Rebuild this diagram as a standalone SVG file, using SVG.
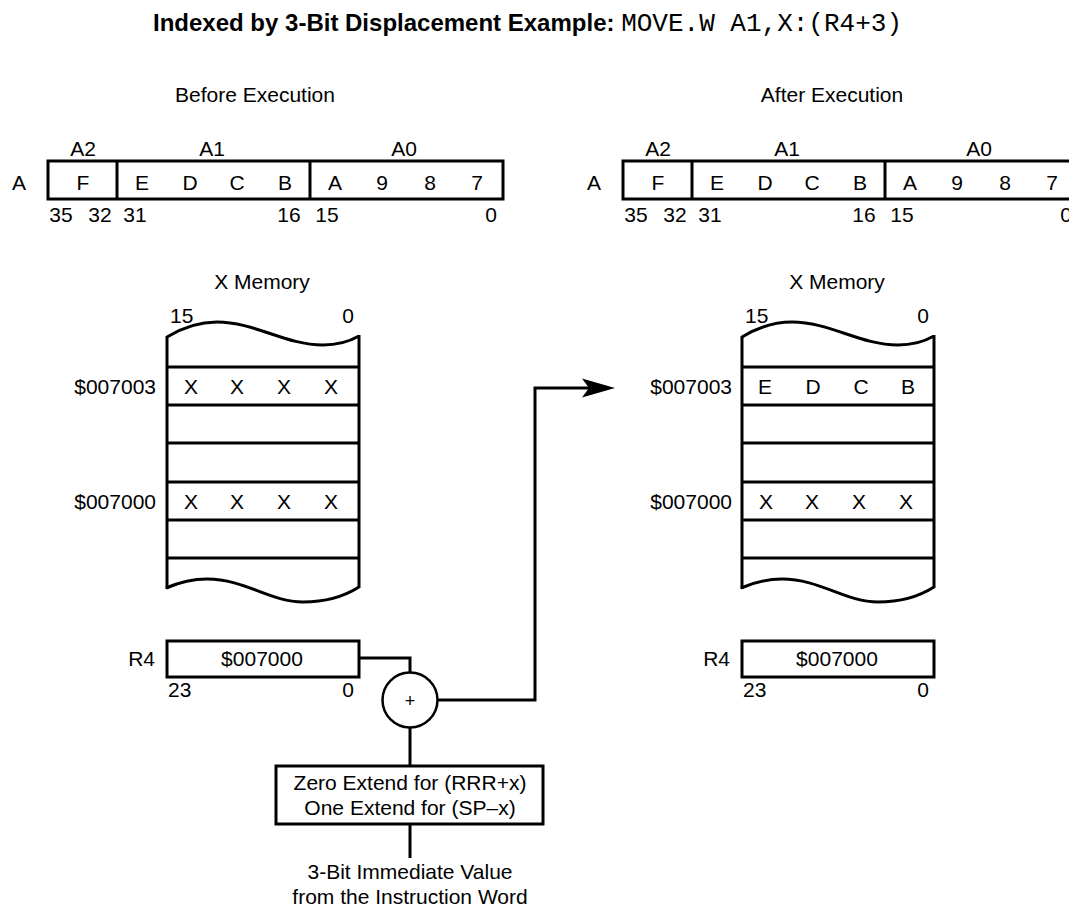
<svg xmlns="http://www.w3.org/2000/svg" width="1069" height="907" viewBox="0 0 1069 907">
<style>
text{font-family:"Liberation Sans",Arial,Helvetica,sans-serif;font-size:21px;fill:#000}
.c{text-anchor:middle}
.e{text-anchor:end}
.box{fill:#fff;stroke:#000;stroke-width:3}
.ln{fill:none;stroke:#000;stroke-width:3}
.title{font-weight:bold;font-size:24px}
.mono{font-family:"Liberation Mono","Courier New",monospace;font-weight:normal;font-size:26px}
</style>
<defs>
<marker id="arr" markerWidth="12" markerHeight="8" refX="11" refY="4" orient="auto" markerUnits="userSpaceOnUse" viewBox="0 0 12 8"><path d="M0,0 L12,4 L0,8 L2,4 Z" fill="#000"/></marker>
</defs>
<rect width="1069" height="907" fill="#fff"/>
<text x="153" y="31" class="title">Indexed by 3-Bit Displacement Example: <tspan class="mono">MOVE.W A1,X:(R4+3)</tspan></text>

<g id="reg-before">
<text x="255" y="102" class="c">Before Execution</text>
<text x="83" y="156" class="c">A2</text>
<text x="212" y="156" class="c">A1</text>
<text x="404" y="156" class="c">A0</text>
<text x="19" y="190" class="c">A</text>
<rect x="48" y="161" width="455" height="38" class="box"/>
<line x1="117" y1="161" x2="117" y2="199" class="ln"/>
<line x1="310" y1="161" x2="310" y2="199" class="ln"/>
<text x="83" y="190" class="c">F</text>
<text x="142" y="190" class="c">E</text>
<text x="190" y="190" class="c">D</text>
<text x="237" y="190" class="c">C</text>
<text x="285" y="190" class="c">B</text>
<text x="335" y="190" class="c">A</text>
<text x="382" y="190" class="c">9</text>
<text x="430" y="190" class="c">8</text>
<text x="477" y="190" class="c">7</text>
<text x="61" y="222" class="c">35</text>
<text x="100" y="222" class="c">32</text>
<text x="135" y="222" class="c">31</text>
<text x="289" y="222" class="c">16</text>
<text x="327" y="222" class="c">15</text>
<text x="491" y="222" class="c">0</text>
</g>

<g id="reg-after" transform="translate(575,0)">
<text x="257" y="102" class="c">After Execution</text>
<text x="83" y="156" class="c">A2</text>
<text x="212" y="156" class="c">A1</text>
<text x="404" y="156" class="c">A0</text>
<text x="19" y="190" class="c">A</text>
<rect x="48" y="161" width="455" height="38" class="box"/>
<line x1="117" y1="161" x2="117" y2="199" class="ln"/>
<line x1="310" y1="161" x2="310" y2="199" class="ln"/>
<text x="83" y="190" class="c">F</text>
<text x="142" y="190" class="c">E</text>
<text x="190" y="190" class="c">D</text>
<text x="237" y="190" class="c">C</text>
<text x="285" y="190" class="c">B</text>
<text x="335" y="190" class="c">A</text>
<text x="382" y="190" class="c">9</text>
<text x="430" y="190" class="c">8</text>
<text x="477" y="190" class="c">7</text>
<text x="61" y="222" class="c">35</text>
<text x="100" y="222" class="c">32</text>
<text x="135" y="222" class="c">31</text>
<text x="289" y="222" class="c">16</text>
<text x="327" y="222" class="c">15</text>
<text x="491" y="222" class="c">0</text>
</g>

<g id="mem-before">
<text x="262" y="289" class="c">X Memory</text>
<text x="170" y="323">15</text>
<text x="348" y="323" class="c">0</text>
<path d="M167,337 C185,326 200,322 217,322 C255,322 285,345 323,345 C340,345 352,340 359,336" class="ln"/>
<path d="M166,588 C180,582 193,579 207,579 C245,579 270,602 303,602 C330,602 348,594 359,587" class="ln"/>
<line x1="167" y1="336" x2="167" y2="589" class="ln"/>
<line x1="359" y1="335" x2="359" y2="588" class="ln"/>
<line x1="167" y1="367" x2="359" y2="367" class="ln"/>
<line x1="167" y1="405" x2="359" y2="405" class="ln"/>
<line x1="167" y1="443" x2="359" y2="443" class="ln"/>
<line x1="167" y1="482" x2="359" y2="482" class="ln"/>
<line x1="167" y1="520" x2="359" y2="520" class="ln"/>
<line x1="167" y1="558" x2="359" y2="558" class="ln"/>
<text x="156" y="394" class="e">$007003</text>
<text x="191" y="394" class="c">X</text>
<text x="237" y="394" class="c">X</text>
<text x="284" y="394" class="c">X</text>
<text x="331" y="394" class="c">X</text>
<text x="156" y="509" class="e">$007000</text>
<text x="191" y="509" class="c">X</text>
<text x="237" y="509" class="c">X</text>
<text x="284" y="509" class="c">X</text>
<text x="331" y="509" class="c">X</text>
</g>

<g id="mem-after" transform="translate(575,0)">
<text x="262" y="289" class="c">X Memory</text>
<text x="170" y="323">15</text>
<text x="348" y="323" class="c">0</text>
<path d="M167,337 C185,326 200,322 217,322 C255,322 285,345 323,345 C340,345 352,340 359,336" class="ln"/>
<path d="M166,588 C180,582 193,579 207,579 C245,579 270,602 303,602 C330,602 348,594 359,587" class="ln"/>
<line x1="167" y1="336" x2="167" y2="589" class="ln"/>
<line x1="359" y1="335" x2="359" y2="588" class="ln"/>
<line x1="167" y1="367" x2="359" y2="367" class="ln"/>
<line x1="167" y1="405" x2="359" y2="405" class="ln"/>
<line x1="167" y1="443" x2="359" y2="443" class="ln"/>
<line x1="167" y1="482" x2="359" y2="482" class="ln"/>
<line x1="167" y1="520" x2="359" y2="520" class="ln"/>
<line x1="167" y1="558" x2="359" y2="558" class="ln"/>
<text x="157" y="394" class="e">$007003</text>
<text x="190" y="394" class="c">E</text>
<text x="238" y="394" class="c">D</text>
<text x="286" y="394" class="c">C</text>
<text x="333" y="394" class="c">B</text>
<text x="157" y="509" class="e">$007000</text>
<text x="191" y="509" class="c">X</text>
<text x="237" y="509" class="c">X</text>
<text x="284" y="509" class="c">X</text>
<text x="331" y="509" class="c">X</text>
</g>

<g id="r4-before">
<text x="155" y="666" class="e">R4</text>
<rect x="167" y="641" width="192" height="36" class="box"/>
<text x="262" y="666" class="c">$007000</text>
<text x="168" y="697">23</text>
<text x="348" y="697" class="c">0</text>
</g>

<g id="r4-after" transform="translate(575,0)">
<text x="155" y="666" class="e">R4</text>
<rect x="167" y="641" width="192" height="36" class="box"/>
<text x="262" y="666" class="c">$007000</text>
<text x="168" y="697">23</text>
<text x="348" y="697" class="c">0</text>
</g>

<g id="adder">
<circle cx="410" cy="700" r="27.5" fill="#fff" stroke="#000" stroke-width="2.5"/>
<text x="410" y="707" class="c" style="font-size:18px">+</text>
</g>

<g id="extend">
<rect x="276" y="766" width="267" height="58" class="box"/>
<text x="410" y="790" class="c">Zero Extend for (RRR+x)</text>
<text x="410" y="815" class="c">One Extend for (SP–x)</text>
</g>

<g id="immediate">
<text x="410" y="879" class="c">3-Bit Immediate Value</text>
<text x="410" y="904" class="c">from the Instruction Word</text>
</g>

<g id="connectors">
<polyline points="359,658 410,658 410,672.5" class="ln"/>
<line x1="410" y1="727.5" x2="410" y2="766" class="ln"/>
<line x1="410" y1="824" x2="410" y2="858" class="ln"/>
<polyline points="437.5,700 535,700 535,388 590,388" class="ln"/>
<path d="M615,388 L582,378.5 L589,388 L582,397.5 Z" fill="#000"/>
</g>
</svg>
